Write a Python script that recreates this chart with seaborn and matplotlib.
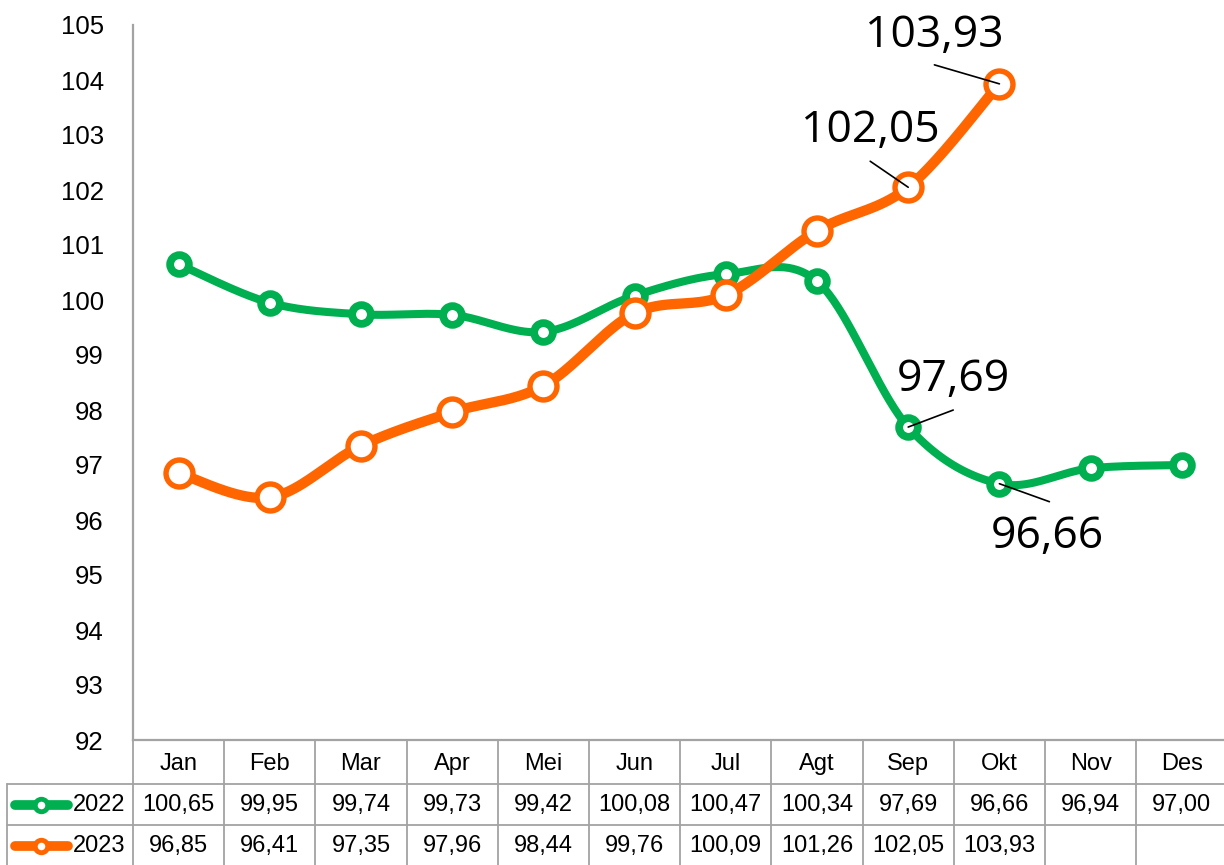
import numpy as np
import matplotlib
matplotlib.use("Agg")
import matplotlib.pyplot as plt
import seaborn as sns

# --- data -------------------------------------------------------------------
months = ["Jan", "Feb", "Mar", "Apr", "Mei", "Jun", "Jul", "Agt", "Sep", "Okt", "Nov", "Des"]
series_names = ["2022", "2023"]
values_2022 = [100.65, 99.95, 99.74, 99.73, 99.42, 100.08, 100.47, 100.34, 97.69, 96.66, 96.94, 97.00]
values_2023 = [96.85, 96.41, 97.35, 97.96, 98.44, 99.76, 100.09, 101.26, 102.05, 103.93]
y_ticks = list(range(92, 106))

# --- style ------------------------------------------------------------------
sns.set_style("white")
plt.rcParams["font.family"] = ["Liberation Sans", "DejaVu Sans"]
plt.rcParams["text.color"] = "black"
plt.rcParams["ytick.color"] = "black"

GREEN = "#00B050"
ORANGE = "#FF6600"
GRID = "#A3A3A3"
NARROW = ["Liberation Sans", "DejaVu Sans"]
BIG = ["Open Sans", "DejaVu Sans"]


def fmt(v):
    return f"{v:.2f}".replace(".", ",")


def smooth_curve(vals, n=40):
    """Cubic Bezier (Catmull-Rom style) smoothing through every point."""
    y = np.asarray(vals, dtype=float)
    x = np.arange(len(y), dtype=float)
    P = np.column_stack([x, y])
    Pp = np.vstack([P[0], P, P[-1]])
    t = np.linspace(0, 1, n)[:, None]
    pts = []
    for i in range(len(P) - 1):
        p0, p1, p2, p3 = Pp[i], Pp[i + 1], Pp[i + 2], Pp[i + 3]
        c1 = p1 + (p2 - p0) / 6.0
        c2 = p2 - (p3 - p1) / 6.0
        seg = ((1 - t) ** 3) * p1 + 3 * ((1 - t) ** 2) * t * c1 + 3 * (1 - t) * t ** 2 * c2 + t ** 3 * p2
        pts.append(seg if i == 0 else seg[1:])
    pts = np.vstack(pts)
    return pts[:, 0], pts[:, 1]


fig = plt.figure(figsize=(12.24, 8.65), dpi=100)
ax = fig.add_axes([133 / 1224, 125 / 865, (1227.4 - 133) / 1224, 715 / 865])

styles = {
    "2022": dict(color=GREEN, lw=5.8, ms=13.5, mew=5.6, vals=values_2022),
    "2023": dict(color=ORANGE, lw=7.4, ms=19.4, mew=3.9, vals=values_2023),
}

for z, name in enumerate(series_names):
    st = styles[name]
    xs, ys = smooth_curve(st["vals"])
    sns.lineplot(x=xs, y=ys, sort=False, estimator=None, color=st["color"],
                 lw=st["lw"], ax=ax, zorder=3 + 2 * z, solid_capstyle="round")
    ax.plot(np.arange(len(st["vals"])), st["vals"], ls="none", marker="o",
            ms=st["ms"], mew=st["mew"], mfc="white", mec=st["color"], zorder=4 + 2 * z)

ax.set_xlim(-0.5, 11.5)
ax.set_ylim(92, 105)
ax.set_yticks(y_ticks)
ax.set_yticklabels([str(t) for t in y_ticks], fontsize=18.5, family=NARROW, color="black")
ax.tick_params(axis="y", length=0, pad=21)
ax.set_xticks([])
for s in ["top", "right"]:
    ax.spines[s].set_visible(False)
for s in ["left", "bottom"]:
    ax.spines[s].set_color(GRID)
    ax.spines[s].set_linewidth(1.6)

# --- value callouts ---------------------------------------------------------
callouts = [
    (values_2023, 9, (-65, 48), (-65, 19)),
    (values_2023, 8, (-38, 56), (-38, 26)),
    (values_2022, 8, (45, 47), (45, 17)),
    (values_2022, 9, (48, -53), (50, -18)),
]
for vals, i, txt_off, line_off in callouts:
    ax.annotate("", xy=(i, vals[i]), xytext=line_off, textcoords="offset pixels",
                arrowprops=dict(arrowstyle="-", color="black", lw=1.2,
                                shrinkA=0, shrinkB=0), zorder=10)
    ax.annotate(fmt(vals[i]), xy=(i, vals[i]), xytext=txt_off, textcoords="offset pixels",
                ha="center", va="center", fontsize=32, family=BIG, color="black", zorder=10)

# --- data table under the axis ---------------------------------------------
tr = ax.get_xaxis_transform()
px = 715.0  # axes height in pixels


def fy(y_px):
    return (740.0 - y_px) / px


def fx(x_px):
    return -0.5 + (x_px - 133.0) / ((1227.4 - 133.0) / 12)


line_kw = dict(color=GRID, lw=1.3, transform=tr, clip_on=False)
for k in range(13):
    ax.plot([k - 0.5, k - 0.5], [fy(740), fy(866)], **line_kw)
ax.plot([fx(7), fx(7)], [fy(784), fy(866)], **line_kw)
for y_px in (784, 825):
    ax.plot([fx(7), 11.5], [fy(y_px), fy(y_px)], **line_kw)

TABLE_FS = 17
for i, m in enumerate(months):
    ax.text(i, fy(764), m, transform=tr, ha="center", va="center", fontsize=TABLE_FS,
            family=NARROW, color="black")

row_y = {"2022": 805, "2023": 846}
for name in series_names:
    st = styles[name]
    yy = fy(row_y[name])
    for i, v in enumerate(st["vals"]):
        ax.text(i, yy, fmt(v), transform=tr, ha="center", va="center", fontsize=TABLE_FS,
                family=NARROW, color="black")
    ax.plot([fx(15), fx(68)], [yy, yy], color=st["color"], lw=7, solid_capstyle="round",
            transform=tr, clip_on=False)
    ax.plot([fx(41)], [yy], ls="none", marker="o", ms=9, mew=3.5, mfc="white",
            mec=st["color"], transform=tr, clip_on=False)
    ax.text(fx(73), yy, name, transform=tr, ha="left", va="center", fontsize=TABLE_FS,
            family=NARROW, color="black")

fig.savefig("out.png", dpi=100)
